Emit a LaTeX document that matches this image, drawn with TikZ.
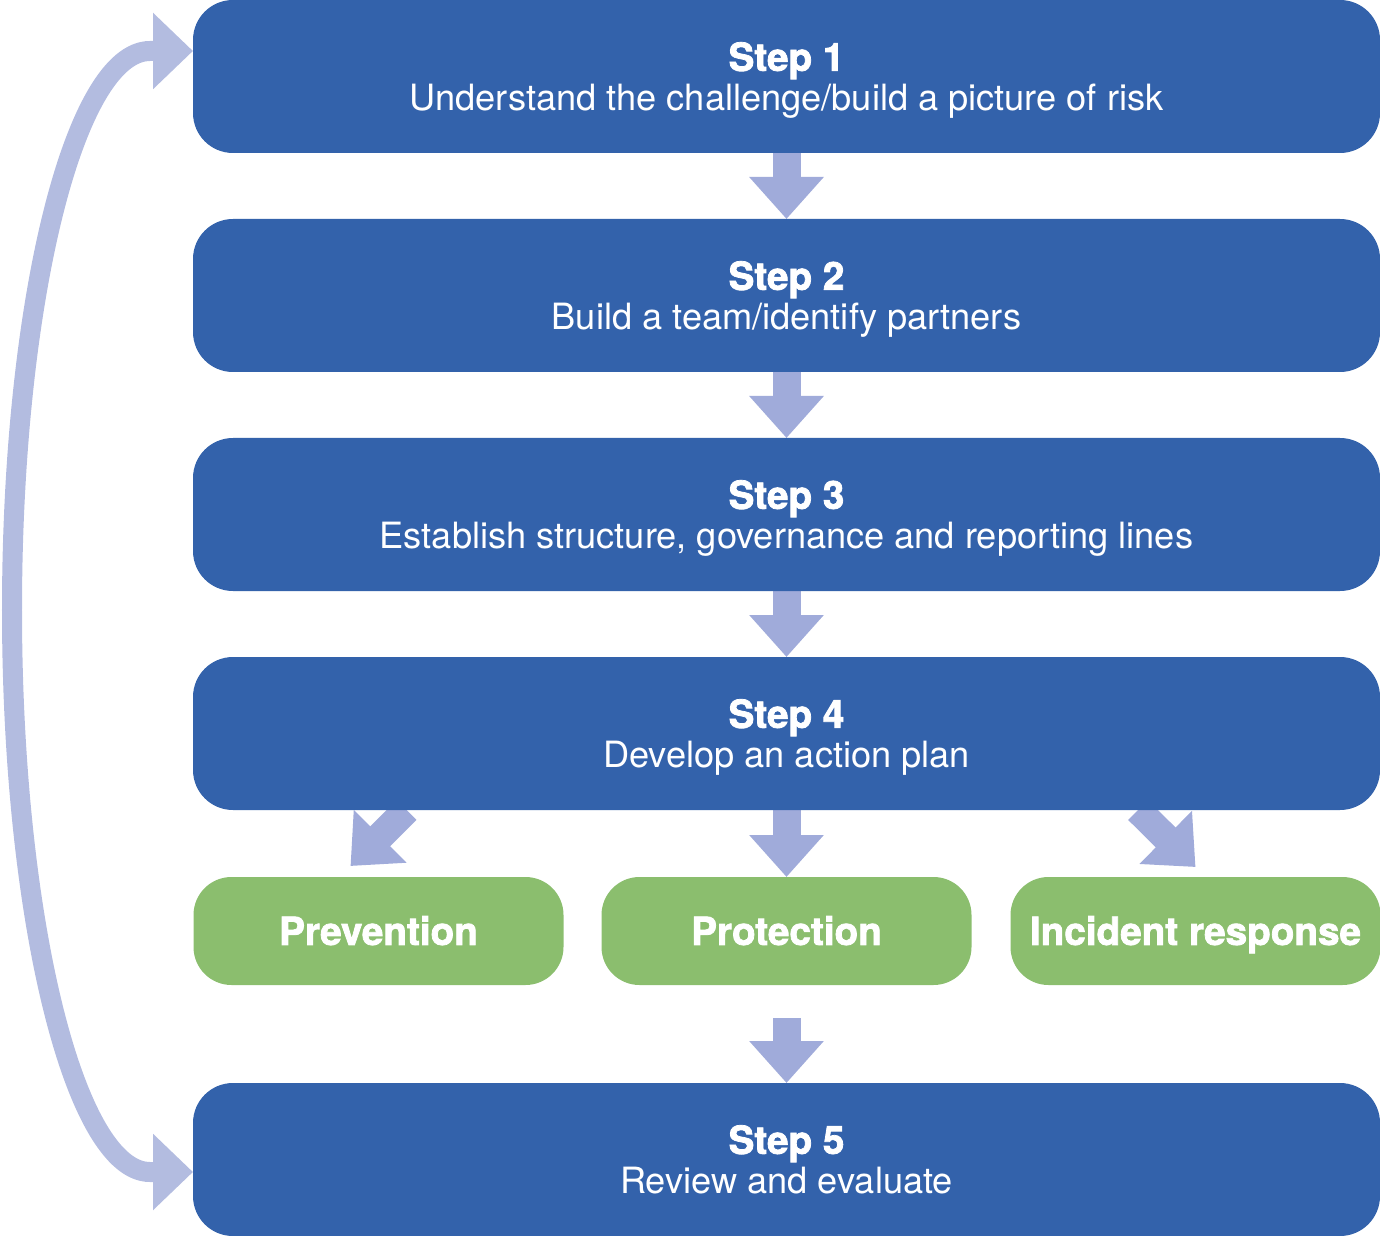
\documentclass[tikz,border=0pt]{standalone}
\usepackage{fontspec}
\setmainfont{TeX Gyre Heros}[BoldFeatures={FakeBold=2}]
\usetikzlibrary{arrows.meta}
\usetikzlibrary{calc}
\usetikzlibrary{positioning}
\usetikzlibrary{backgrounds}
\definecolor{stepblue}{HTML}{3362AB}
\definecolor{boxgreen}{HTML}{8BBE6E}
\definecolor{flowlav}{HTML}{A0ABDA}
\definecolor{looplav}{HTML}{B3BCE0}
\tikzset{
  st/.style={fill=stepblue,text=white,rounded corners=0.4cm,minimum width=11.87cm,minimum height=1.53cm,inner sep=0pt,outer sep=0pt,text depth=0pt,align=center,font=\fontsize{10.3}{11.4}\selectfont},
  gr/.style={fill=boxgreen,text=white,rounded corners=0.38cm,minimum width=3.7cm,minimum height=1.08cm,inner sep=0pt,outer sep=0pt,text height=7.9pt,text depth=0pt,font=\fontsize{11}{13}\selectfont\bfseries},
  fl/.style={flowlav,line width=0.28cm,-{Triangle[width=0.72cm,length=0.42cm]}},
  lp/.style={looplav,line width=0.2cm,{Triangle[width=0.74cm,length=0.4cm]}-{Triangle[width=0.74cm,length=0.4cm]}}
}
\newcommand\stp[2]{{\bfseries\fontsize{11}{11.4}\selectfont Step #1}\\#2}

\begin{document}
\begin{tikzpicture}
    \useasboundingbox (0,0) rectangle (13.8,-12.36);
    \node[st] (s1) at (7.865,-0.765) {\stp{1}{Understand the challenge/build a picture of risk}};
    \node[st,below=0.66cm of s1] (s2) {\stp{2}{Build a team/identify partners}};
    \node[st,below=0.66cm of s2] (s3) {\stp{3}{Establish structure, governance and reporting lines}};
    \node[st,below=0.66cm of s3] (s4) {\stp{4}{Develop an action plan}};
    \node[gr,below=0.67cm of s4] (prot) {Protection};
    \node[gr,left=0.38cm of prot] (prev) {Prevention};
    \node[gr,right=0.39cm of prot] (inc) {Incident response};
    \node[st,below=0.98cm of prot] (s5) {\stp{5}{Review and evaluate}};
    % ends of the slanted arrows and of the loop
    \coordinate (l4) at ($(s4.south)+(-3.8,0)$);
    \coordinate (r4) at ($(s4.south)+(3.515,0)$);
    \coordinate (t1) at ($(s1.west)+(0,0.255)$);
    \coordinate (t5) at ($(s5.west)+(0,-0.125)$);
    \begin{scope}[on background layer]
      \draw[fl] (s1.south) -- (s2.north);
      \draw[fl] (s2.south) -- (s3.north);
      \draw[fl] (s3.south) -- (s4.north);
      \draw[fl] (s4.south) -- (prot.north);
      \draw[fl] (l4) -- ($(prev.north)+(-0.28,0.11)$);
      \draw[fl] (r4) -- ($(inc.north)+(0,0.10)$);
      \draw[fl,shorten <=0.33cm] (prot.south) -- (s5.north);
    \end{scope}
    \draw[lp] (t5) -- ++(-0.43,0) .. controls (0.75,-11.72) and (0.12,-9.2) .. (0.12,-6.1)
      .. controls (0.12,-3.0) and (0.75,-0.51) .. (1.5,-0.51) -- (t1);
\end{tikzpicture}
\end{document}
